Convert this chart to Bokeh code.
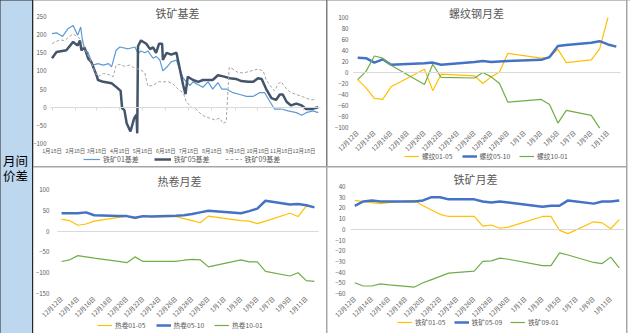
import pandas as pd
from bokeh.plotting import figure
from bokeh.layouts import row, column
from bokeh.models import Label, Legend, LegendItem, FixedTicker, Range1d, LinearAxis
from bokeh.embed import file_html
from bokeh.resources import INLINE

FONT = "Noto Sans CJK SC"
GREY = "#595959"

# ---------------- Chart 1: 铁矿基差 (days counted from 1月18日) ----------------
basis_start = "2023-01-18"
basis_tick_dates = ["2023-01-18", "2023-02-18", "2023-03-18", "2023-04-18", "2023-05-18", "2023-06-18",
                    "2023-07-18", "2023-08-18", "2023-09-18", "2023-10-18", "2023-11-18", "2023-12-18"]
basis_tick_labels = ["1月18日", "2月18日", "3月18日", "4月18日", "5月18日", "6月18日",
                     "7月18日", "8月18日", "9月18日", "10月18日", "11月18日", "12月18日"]

ore01_day = [0, 6, 14, 21, 28, 34, 38, 40, 43, 48, 54, 61, 68, 75, 79, 85, 90, 101, 110, 114,
             118, 123, 127, 134, 138, 143, 147, 152, 158, 165, 169, 174, 178, 183, 187, 191, 196, 200, 207, 213,
             220, 225, 231, 240, 249, 258, 267, 275, 282, 289, 295, 304, 313, 324, 331, 337, 346, 353]
ore01_val = [203, 205, 195, 216, 225, 198, 221, 190, 161, 150, 116, 120, 116, 120, 111, 157, 166, 161, 166, 148,
             155, 150, 155, 135, 140, 130, 100, 110, 125, 130, 105, 80, 70, 60, 70, 65, 60, 55, 70, 50,
             68, 50, 50, 40, 35, 30, 30, 40, 40, 15, -5, -5, -10, -15, -22, -15, -10, -15]

ore05_day = [0, 6, 19, 28, 34, 37, 39, 43, 48, 52, 59, 61, 68, 79, 85, 91, 93, 96, 99, 104,
             109, 112, 113, 114, 118, 125, 130, 134, 138, 142, 146, 147, 152, 158, 165, 169, 174, 177, 180, 187,
             194, 200, 207, 213, 220, 227, 236, 244, 251, 260, 267, 273, 278, 284, 291, 297, 302, 306, 311, 317,
             324, 331, 337, 344, 348, 353]
ore05_val = [135, 152, 157, 180, 170, 184, 157, 165, 134, 125, 88, 75, 70, 66, 56, 45, -3, -8, -44, -67,
             -30, -21, -72, 168, 184, 175, 160, 165, 150, 175, 175, 130, 150, 145, 150, 110, 60, 36, 84, 75,
             70, 75, 75, 75, 88, 85, 80, 78, 72, 70, 70, 80, 78, 50, 25, 20, 35, 35, 15, 5,
             10, 5, -5, -5, -3, 0]

ore09_day = [0, 4, 10, 17, 23, 28, 37, 44, 50, 57, 61, 68, 75, 81, 85, 90, 96, 103, 110, 116,
             123, 127, 134, 141, 147, 154, 160, 167, 174, 178, 185, 191, 198, 202, 209, 216, 222, 227, 231, 235,
             240, 247, 255, 264, 273, 280, 284, 291, 295, 300, 304, 311, 317, 324, 331, 337, 344, 350]
ore09_val = [175, 180, 185, 184, 195, 202, 189, 157, 134, 97, 84, 93, 90, 84, 116, 118, 113, 116, 107, 105,
             95, 58, 60, 70, 70, 70, 65, 50, 40, 15, 0, -5, -20, -25, -30, -35, -30, -45, -40, 110,
             105, 95, 95, 100, 105, 100, 75, 55, 45, 65, 70, 50, 40, 35, 30, 25, 20, 22]

# ---------------- Monthly spreads (12月12日 – 1月12日) ----------------
spread_start = "2022-12-12"
spread_tick_dates = ["2022-12-12", "2022-12-14", "2022-12-16", "2022-12-18", "2022-12-20", "2022-12-22",
                     "2022-12-24", "2022-12-26", "2022-12-28", "2022-12-30", "2023-01-01", "2023-01-03",
                     "2023-01-05", "2023-01-07", "2023-01-09", "2023-01-11"]
spread_tick_labels = ["12月12日", "12月14日", "12月16日", "12月18日", "12月20日", "12月22日",
                      "12月24日", "12月26日", "12月28日", "12月30日", "1月1日", "1月3日",
                      "1月5日", "1月7日", "1月9日", "1月11日"]

trade_dates = ["2022-12-12", "2022-12-13", "2022-12-14", "2022-12-15", "2022-12-16", "2022-12-19",
               "2022-12-20", "2022-12-21", "2022-12-22", "2022-12-23", "2022-12-26", "2022-12-27",
               "2022-12-28", "2022-12-29", "2022-12-30", "2023-01-03", "2023-01-04", "2023-01-05",
               "2023-01-06", "2023-01-09", "2023-01-10", "2023-01-11", "2023-01-12"]
rebar_dates = ["2022-12-12", "2022-12-13", "2022-12-14", "2022-12-15", "2022-12-16", "2022-12-20",
               "2022-12-21", "2022-12-22", "2022-12-26", "2022-12-27", "2022-12-28", "2022-12-29",
               "2022-12-30", "2023-01-03", "2023-01-04", "2023-01-05", "2023-01-06", "2023-01-09",
               "2023-01-10", "2023-01-11", "2023-01-12"]

rebar_0105 = [-13, -28, -47, -49, -26, 6, -33, -3, -6, -20, -8, 1, 35, 26, 28, 42, 18, 23, 43, 100]
rebar_0510 = [27, 26, 18, 24, 14, 17, 18, 14, 19, 21, 19, 20, 21, 23, 28, 48, 50, 54, 57, 51, 47]
rebar_1001 = [-13, 2, 30, 26, 13, -22, 15, -9, -10, 0, -8, -20, -54, -49, -58, -92, -69, -78, -101]

hc_0105 = [28, 25, 14, 17, 24, 33, 36, 30, 35, 35, 35, 30, 25, 20, 36, 25, 24, 18, 24, 43, 35, 60, 58]
hc_0510 = [43, 43, 43, 45, 38, 36, 36, 32, 36, 35, 37, 38, 41, 45, 49, 43, 48, 54, 73, 64, 65, 62, 57]
hc_1001 = [-73, -69, -59, -62, -65, -73, -76, -62, -73, -73, -73, -70, -68, -69, -86, -69, -74, -74, -97,
           -108, -100, -119, -121]

ore_0105 = [27, 26, 25, 24, 25, 27, 22, 18, 14, 12, 12, 3, 4, 1, 2, 12, 12, -1, -4, 7, 6, 0.5, 9]
ore_0509 = [22, 26, 27, 26, 26, 26, 27, 30, 30, 28, 28, 26, 25, 26, 25, 21, 22, 22, 27, 24, 26, 26, 27]
ore_0901 = [-50, -53, -53, -51, -52, -54, -50, -47, -44, -41, -39, -30, -29.5, -27, -28, -34, -34, -22, -24,
            -31, -32, -26, -36]


def day_offsets(dates, start):
    return [int(d) for d in (pd.to_datetime(dates) - pd.Timestamp(start)).days]


def style_axis(ax, lab_size, standoff):
    ax.axis_line_color = None
    ax.major_tick_line_color = None
    ax.minor_tick_line_color = None
    ax.major_tick_out = 0
    ax.major_tick_in = 0
    ax.minor_tick_out = 0
    ax.minor_tick_in = 0
    ax.major_label_text_font = FONT
    ax.major_label_text_font_size = lab_size
    ax.major_label_text_color = GREY
    ax.major_label_standoff = standoff


def make_panel(w, h, inset, xext, yext, yticks, xticks, xlabels, rot, ylab_size, xlab_size,
               ystand, xstand, zero_ticks=None):
    """inset = (left, right, top, bottom) pixels between figure edge and the plot area."""
    left, right, top, bottom = inset
    x0, x1 = xext
    y0, y1 = yext
    sx = (w - left - right) / (x1 - x0)
    sy = (h - top - bottom) / (y1 - y0)
    p = figure(width=w, height=h, output_backend="svg", toolbar_location=None,
               x_range=Range1d(x0 - left / sx, x1 + right / sx),
               y_range=Range1d(y0 - bottom / sy, y1 + top / sy),
               x_axis_type=None, y_axis_type=None,
               min_border_left=0, min_border_right=0, min_border_top=0, min_border_bottom=0,
               background_fill_color="white", border_fill_color="white",
               outline_line_color=None)
    p.xgrid.visible = False
    p.ygrid.visible = False
    ya = LinearAxis(fixed_location=x0, ticker=FixedTicker(ticks=yticks))
    style_axis(ya, ylab_size, ystand)
    p.add_layout(ya, "left")
    xa = LinearAxis(fixed_location=y0, ticker=FixedTicker(ticks=xticks),
                    major_label_overrides={t: l for t, l in zip(xticks, xlabels)})
    style_axis(xa, xlab_size, xstand)
    if rot:
        xa.major_label_orientation = rot
    p.add_layout(xa, "below")
    za = LinearAxis(fixed_location=0, bounds=(x0, x1),
                    ticker=FixedTicker(ticks=zero_ticks if zero_ticks else []))
    za.axis_line_color = "#d9d9d9"
    za.axis_line_width = 1
    za.major_tick_line_color = "#d9d9d9" if zero_ticks else None
    za.major_tick_out = 3
    za.major_tick_in = 0
    za.minor_tick_line_color = None
    za.major_label_text_alpha = 0
    za.major_label_text_font_size = "1px"
    p.add_layout(za, "below")
    return p


def add_title(p, text, x, y_top, h):
    p.add_layout(Label(x=x, y=h - y_top, x_units="screen", y_units="screen", text=text,
                       text_font=FONT, text_font_size="11px", text_color=GREY,
                       text_align="center", text_baseline="middle"))


def add_legend(p, items, x, y, spacing, glyph_w, size="6.7px"):
    p.add_layout(Legend(items=items, location=(x, y), orientation="horizontal",
                        label_text_font=FONT, label_text_font_size=size,
                        label_text_color=GREY, glyph_width=glyph_w, glyph_height=8,
                        label_height=8, label_standoff=3, spacing=spacing,
                        padding=0, margin=0, border_line_color=None,
                        background_fill_alpha=0))


H = 166

# ---------- Chart 1 ----------
btick = day_offsets(basis_tick_dates, basis_start)
p1 = make_panel(293, H, (17, 6, 16, 23), (-2, 356), (-100, 250),
                list(range(-100, 251, 50)), btick, basis_tick_labels, None, "6px", "5.4px", 4, 3,
                zero_ticks=btick)
r1 = p1.line(ore01_day, ore01_val, line_color="#5B9BD5", line_width=1.2)
r2 = p1.line(ore05_day, ore05_val, line_color="#44546A", line_width=2.5)
r3 = p1.line(ore09_day, ore09_val, line_color="#A5A5A5", line_width=1, line_dash="3 2")
add_title(p1, "铁矿基差", 144, 12.5, H)
add_legend(p1, [LegendItem(label="铁矿01基差", renderers=[r1]),
                LegendItem(label="铁矿05基差", renderers=[r2]),
                LegendItem(label="铁矿09基差", renderers=[r3])], 50, 2, 15, 17, "7px")

stick = day_offsets(spread_tick_dates, spread_start)
tx = day_offsets(trade_dates, spread_start)
rx = day_offsets(rebar_dates, spread_start)

# ---------- Chart 2: 螺纹钢月差 ----------
p2 = make_panel(299, H, (26, 6, 17, 39), (-0.5, 31.5), (-100, 100),
                list(range(-100, 101, 20)), stick, spread_tick_labels, 0.785, "6.2px", "6.2px", 5, 4)
a1 = p2.line(rx[:len(rebar_0105)], rebar_0105, line_color="#FFC000", line_width=1.2)
a2 = p2.line(rx[:len(rebar_0510)], rebar_0510, line_color="#4472C4", line_width=2.5)
a3 = p2.line(rx[:len(rebar_1001)], rebar_1001, line_color="#70AD47", line_width=1.2)
add_title(p2, "螺纹钢月差", 149, 12, H)
add_legend(p2, [LegendItem(label="螺纹01-05", renderers=[a1]),
                LegendItem(label="螺纹05-10", renderers=[a2]),
                LegendItem(label="螺纹10-01", renderers=[a3])], 77, 5, 9, 15)

# ---------- Chart 3: 热卷月差 ----------
p3 = make_panel(293, H, (24, 8, 22, 40), (-0.5, 31.5), (-150, 100),
                list(range(-150, 101, 50)), stick, spread_tick_labels, 0.785, "6.2px", "6.2px", 8, 4)
b1 = p3.line(tx[:len(hc_0105)], hc_0105, line_color="#FFC000", line_width=1.2)
b2 = p3.line(tx[:len(hc_0510)], hc_0510, line_color="#4472C4", line_width=2.5)
b3 = p3.line(tx[:len(hc_1001)], hc_1001, line_color="#70AD47", line_width=1.2)
add_title(p3, "热卷月差", 146, 13, H)
add_legend(p3, [LegendItem(label="热卷01-05", renderers=[b1]),
                LegendItem(label="热卷05-10", renderers=[b2]),
                LegendItem(label="热卷10-01", renderers=[b3])], 64, 3, 10, 15)

# ---------- Chart 4: 铁矿月差 ----------
p4 = make_panel(299, H, (23, 3, 19, 40), (-0.5, 31.5), (-60, 40),
                list(range(-60, 41, 10)), stick, spread_tick_labels, 0.785, "6.2px", "6.2px", 5, 4)
c1 = p4.line(tx[:len(ore_0105)], ore_0105, line_color="#FFC000", line_width=1.2)
c2 = p4.line(tx[:len(ore_0509)], ore_0509, line_color="#4472C4", line_width=2.5)
c3 = p4.line(tx[:len(ore_0901)], ore_0901, line_color="#70AD47", line_width=1.2)
add_title(p4, "铁矿月差", 148, 11.5, H)
add_legend(p4, [LegendItem(label="铁矿01-05", renderers=[c1]),
                LegendItem(label="铁矿05-09", renderers=[c2]),
                LegendItem(label="铁矿09-01", renderers=[c3])], 70, 6, 8, 15)

# ---------- Left label column ----------
pl = figure(width=32, height=333, output_backend="svg", toolbar_location=None,
            x_range=Range1d(0, 1), y_range=Range1d(0, 1), x_axis_type=None, y_axis_type=None,
            min_border_left=0, min_border_right=0, min_border_top=0, min_border_bottom=0,
            background_fill_color="#BDD7EE", border_fill_color="#BDD7EE", outline_line_color=None)
pl.xgrid.visible = False
pl.ygrid.visible = False
for txt, yy in (("月间", 173), ("价差", 158)):
    pl.add_layout(Label(x=15, y=yy, x_units="screen", y_units="screen", text=txt,
                        text_font=FONT, text_font_size="12.5px", text_color="black",
                        text_align="center", text_baseline="middle"))

# thin white strip beyond the grey right border
pr = figure(width=3, height=333, output_backend="svg", toolbar_location=None,
            x_range=Range1d(0, 1), y_range=Range1d(0, 1), x_axis_type=None, y_axis_type=None,
            min_border_left=0, min_border_right=0, min_border_top=0, min_border_bottom=0,
            background_fill_color="white", border_fill_color="white", outline_line_color=None)
pr.xgrid.visible = False
pr.ygrid.visible = False

top = row(p1, p2, spacing=1, styles={"background-color": "#7f7f7f"})
bottom = row(p3, p4, spacing=1)
right = column(top, bottom, spacing=1)
right_wrap = row(right, pr, spacing=1, styles={"background-color": "#a6a6a6"})
layout = row(pl, right_wrap, spacing=1, styles={"background-color": "#262626"})

open("out.html", "w").write(file_html(layout, INLINE))
